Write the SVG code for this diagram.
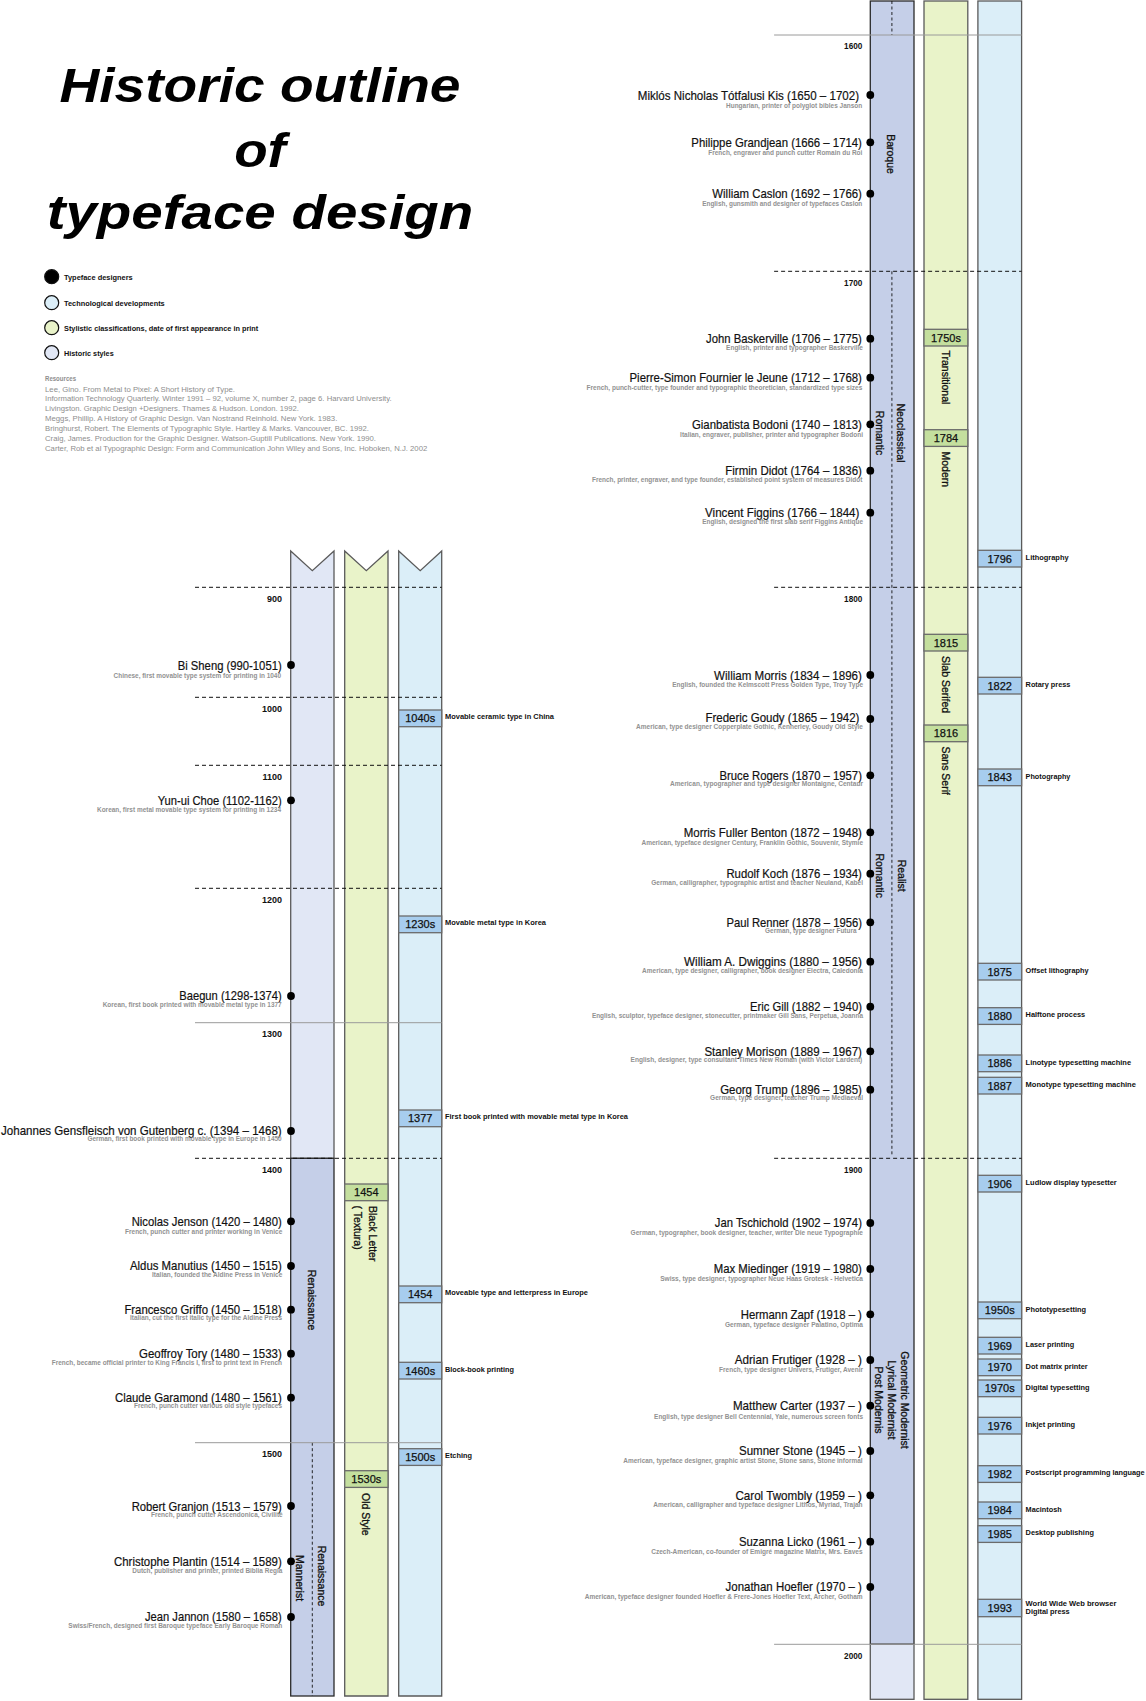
<svg xmlns="http://www.w3.org/2000/svg" width="1146" height="1701" viewBox="0 0 1146 1701">
<style>
text{font-family:"Liberation Sans",Arial,sans-serif;}
.t{font-weight:bold;font-style:italic;font-size:47.5px;text-anchor:middle;fill:#000}
.lg{font-weight:bold;font-size:7.3px;fill:#111}
.rs{font-size:7px;fill:#8e8e8e}
.rh{font-size:7px;font-weight:bold;fill:#8e8e8e}
.nm{font-size:13px;fill:#111;text-anchor:end;stroke:#111;stroke-width:0.2}
.ds{font-size:6.5px;font-weight:bold;fill:#929292;text-anchor:end}
.yl{font-size:9px;font-weight:bold;text-anchor:end;fill:#111}
.yr{font-size:8.2px;font-weight:bold;text-anchor:end;fill:#111}
.dot{fill:#000}
.tb{fill:#a7cdee;stroke:#6b6b6b;stroke-width:1.3}
.sb{fill:#c4df9e;stroke:#6b6b6b;stroke-width:1.3}
.bx{font-size:11px;text-anchor:middle;fill:#111;stroke:#111;stroke-width:0.25}
.tl{font-size:6.8px;font-weight:bold;fill:#111}
.rot{font-size:10.5px;fill:#111;dominant-baseline:central;stroke:#111;stroke-width:0.3}
.dash{stroke:#111;stroke-width:1;stroke-dasharray:4 3;fill:none}
.sol{stroke:#9a9a9a;stroke-width:1;fill:none}
.vd{stroke:#111;stroke-width:0.9;stroke-dasharray:3 2.5;fill:none}
.hs1{fill:#e1e7f5;stroke:#5a5a5a;stroke-width:1.3}
.hs2{fill:#c5cfe8;stroke:#2a2a2a;stroke-width:1.3}
.cg{fill:#e9f3c9;stroke:#5a5a5a;stroke-width:1.3}
.cb{fill:#dbeef8;stroke:#5a5a5a;stroke-width:1.3}
</style>
<rect width="1146" height="1701" fill="#fff"/>

<g id="title">
<text class="t" x="260" y="101.5" textLength="401" lengthAdjust="spacingAndGlyphs">Historic outline</text>
<text class="t" x="260" y="166.5" textLength="51.7" lengthAdjust="spacingAndGlyphs">of</text>
<text class="t" x="260" y="229" textLength="426.7" lengthAdjust="spacingAndGlyphs">typeface design</text>
</g>

<g id="legend">
<circle cx="51.7" cy="276.7" r="7" fill="#000" stroke="#111" stroke-width="1.2"/>
<text class="lg" x="64" y="279.5" textLength="68.7" lengthAdjust="spacingAndGlyphs">Typeface designers</text>
<circle cx="51.7" cy="302.7" r="7" fill="#dbeef8" stroke="#111" stroke-width="1.2"/>
<text class="lg" x="64" y="305.5" textLength="100.7" lengthAdjust="spacingAndGlyphs">Technological developments</text>
<circle cx="51.7" cy="327.7" r="7" fill="#e9f3c9" stroke="#111" stroke-width="1.2"/>
<text class="lg" x="64" y="330.5" textLength="194.3" lengthAdjust="spacingAndGlyphs">Stylistic classifications, date of first appearance in print</text>
<circle cx="51.7" cy="352.7" r="7" fill="#e1e7f5" stroke="#111" stroke-width="1.2"/>
<text class="lg" x="64" y="355.5" textLength="49.7" lengthAdjust="spacingAndGlyphs">Historic styles</text>
</g>

<g id="resources">
<text class="rh" x="45" y="381" textLength="31" lengthAdjust="spacingAndGlyphs">Resources</text>
<text class="rs" x="45" y="391.5" textLength="190" lengthAdjust="spacingAndGlyphs">Lee, Gino. From Metal to Pixel: A Short History of Type.</text>
<text class="rs" x="45" y="401.3" textLength="346.7" lengthAdjust="spacingAndGlyphs">Information Technology Quarterly. Winter 1991 – 92, volume X, number 2, page 6. Harvard University.</text>
<text class="rs" x="45" y="411" textLength="254" lengthAdjust="spacingAndGlyphs">Livingston. Graphic Design +Designers. Thames &amp; Hudson. London. 1992.</text>
<text class="rs" x="45" y="420.7" textLength="292.3" lengthAdjust="spacingAndGlyphs">Meggs, Phillip. A History of Graphic Design. Van Nostrand Reinhold. New York. 1983.</text>
<text class="rs" x="45" y="430.6" textLength="324" lengthAdjust="spacingAndGlyphs">Bringhurst, Robert. The Elements of Typographic Style. Hartley &amp; Marks. Vancouver, BC. 1992.</text>
<text class="rs" x="45" y="440.5" textLength="331" lengthAdjust="spacingAndGlyphs">Craig, James. Production for the Graphic Designer. Watson-Guptill Publications. New York. 1990.</text>
<text class="rs" x="45" y="450.5" textLength="382.3" lengthAdjust="spacingAndGlyphs">Carter, Rob et al Typographic Design: Form and Communication John Wiley and Sons, Inc. Hoboken, N.J. 2002</text>
</g>

<g id="columns-left">
<path class="hs1" d="M290.7,551 L312.3,570.7 L334,551 L334,1158.3 L290.7,1158.3 Z"/>
<rect class="hs2" x="290.7" y="1158.3" width="43.3" height="537.7"/>
<path class="cg" d="M344.7,551 L366.3,570.7 L388,551 L388,1696 L344.7,1696 Z"/>
<path class="cb" d="M398.7,551 L420.2,570.7 L441.7,551 L441.7,1696 L398.7,1696 Z"/>
<line class="vd" x1="312.3" y1="1442.7" x2="312.3" y2="1696"/>
</g>

<g id="columns-right">
<rect class="hs2" x="870.3" y="1" width="43.7" height="1643.3"/>
<rect class="hs1" x="870.3" y="1644.3" width="43.7" height="55"/>
<rect class="cg" x="924" y="1" width="43.8" height="1698.3"/>
<rect class="cb" x="977.9" y="1" width="43.7" height="1698.3"/>
<line class="vd" x1="891.9" y1="1" x2="891.9" y2="35"/>
<line class="vd" x1="891.9" y1="271.3" x2="891.9" y2="1155"/>
</g>

<g id="timeline-lines">
<line class="dash" x1="195" y1="587.3" x2="441.7" y2="587.3"/>
<line class="dash" x1="195" y1="697.3" x2="441.7" y2="697.3"/>
<line class="dash" x1="195" y1="765.3" x2="441.7" y2="765.3"/>
<line class="dash" x1="195" y1="888.3" x2="441.7" y2="888.3"/>
<line class="sol" x1="195" y1="1022.7" x2="441.7" y2="1022.7"/>
<line class="dash" x1="195" y1="1158.3" x2="441.7" y2="1158.3"/>
<line class="sol" x1="195" y1="1442.7" x2="441.7" y2="1442.7"/>
<line class="sol" x1="774.1" y1="35" x2="1021.6" y2="35"/>
<line class="dash" x1="774.1" y1="271.3" x2="1021.6" y2="271.3"/>
<line class="dash" x1="774.1" y1="587.3" x2="1021.6" y2="587.3"/>
<line class="dash" x1="774.1" y1="1158.3" x2="1021.6" y2="1158.3"/>
<line class="sol" x1="774.1" y1="1644.3" x2="1021.6" y2="1644.3"/>
</g>

<g id="year-labels">
<text class="yl" x="282" y="601.8">900</text>
<text class="yl" x="282" y="711.5">1000</text>
<text class="yl" x="282" y="779.5">1100</text>
<text class="yl" x="282" y="902.8">1200</text>
<text class="yl" x="282" y="1036.8">1300</text>
<text class="yl" x="282" y="1173">1400</text>
<text class="yl" x="282" y="1456.5">1500</text>
<text class="yr" x="862.3" y="48.8">1600</text>
<text class="yr" x="862.3" y="285.6">1700</text>
<text class="yr" x="862.3" y="601.6">1800</text>
<text class="yr" x="862.3" y="1173">1900</text>
<text class="yr" x="862.3" y="1658.6">2000</text>
</g>

<g id="historic-styles">
<text class="rot" transform="translate(311.7,1300) rotate(90)" text-anchor="middle">Renaissance</text>
<text class="rot" transform="translate(300,1578) rotate(90)" text-anchor="middle">Mannerist</text>
<text class="rot" transform="translate(321.7,1576) rotate(90)" text-anchor="middle">Renaissance</text>
<text class="rot" transform="translate(891.2,154) rotate(90)" text-anchor="middle">Baroque</text>
<text class="rot" transform="translate(901.1,433) rotate(90)" text-anchor="middle">Neoclassical</text>
<text class="rot" transform="translate(880,433) rotate(90)" text-anchor="middle">Romantic</text>
<text class="rot" transform="translate(901.6,875.7) rotate(90)" text-anchor="middle">Realist</text>
<text class="rot" transform="translate(880,875.7) rotate(90)" text-anchor="middle">Romantic</text>
<text class="rot" transform="translate(904.7,1400) rotate(90)" text-anchor="middle">Geometric Modernist</text>
<text class="rot" transform="translate(891.7,1400) rotate(90)" text-anchor="middle">Lyrical Modernist</text>
<text class="rot" transform="translate(879.3,1400) rotate(90)" text-anchor="middle">Post Modernis</text>
</g>

<g id="style-1454">
<rect class="sb" x="344.7" y="1184" width="43.3" height="16.7"/>
<text class="bx" x="366.3" y="1196.4">1454</text>
<text class="rot" transform="translate(372.7,1206) rotate(90)">Black Letter</text>
<text class="rot" transform="translate(358.3,1205.5) rotate(90)">( Textura)</text>
</g>
<g id="style-1530s">
<rect class="sb" x="344.7" y="1470.7" width="43.3" height="16.7"/>
<text class="bx" x="366.3" y="1483.1">1530s</text>
<text class="rot" transform="translate(366,1493) rotate(90)">Old Style</text>
</g>
<g id="style-1750s">
<rect class="sb" x="924" y="329.3" width="43.8" height="16.7"/>
<text class="bx" x="945.9" y="341.7">1750s</text>
<text class="rot" transform="translate(945.7,350.5) rotate(90)">Transitional</text>
</g>
<g id="style-1784">
<rect class="sb" x="924" y="429.7" width="43.8" height="16.7"/>
<text class="bx" x="945.9" y="442.1">1784</text>
<text class="rot" transform="translate(945.7,451.5) rotate(90)">Modern</text>
</g>
<g id="style-1815">
<rect class="sb" x="924" y="634.3" width="43.8" height="16.7"/>
<text class="bx" x="945.9" y="646.7">1815</text>
<text class="rot" transform="translate(945.7,656) rotate(90)">Slab Serifed</text>
</g>
<g id="style-1816">
<rect class="sb" x="924" y="725" width="43.8" height="16.7"/>
<text class="bx" x="945.9" y="737.4">1816</text>
<text class="rot" transform="translate(945.7,746.5) rotate(90)">Sans Serif</text>
</g>

<g id="tech-1040s"><rect class="tb" x="398.7" y="710" width="43" height="16.7"/><text class="bx" x="420.2" y="722.4">1040s</text><text class="tl" x="445" y="719.2" textLength="109" lengthAdjust="spacingAndGlyphs">Movable ceramic type in China</text></g>
<g id="tech-1230s"><rect class="tb" x="398.7" y="916" width="43" height="16.7"/><text class="bx" x="420.2" y="928.4">1230s</text><text class="tl" x="445" y="925.2" textLength="101" lengthAdjust="spacingAndGlyphs">Movable metal type in Korea</text></g>
<g id="tech-1377"><rect class="tb" x="398.7" y="1110" width="43" height="16.7"/><text class="bx" x="420.2" y="1122.4">1377</text><text class="tl" x="445" y="1119.2" textLength="183" lengthAdjust="spacingAndGlyphs">First book printed with movable metal type in Korea</text></g>
<g id="tech-1454"><rect class="tb" x="398.7" y="1286" width="43" height="16.7"/><text class="bx" x="420.2" y="1298.4">1454</text><text class="tl" x="445" y="1295.2" textLength="143" lengthAdjust="spacingAndGlyphs">Moveable type and letterpress in Europe</text></g>
<g id="tech-1460s"><rect class="tb" x="398.7" y="1362.3" width="43" height="16.7"/><text class="bx" x="420.2" y="1374.7">1460s</text><text class="tl" x="445" y="1371.5" textLength="69" lengthAdjust="spacingAndGlyphs">Block-book printing</text></g>
<g id="tech-1500s"><rect class="tb" x="398.7" y="1448.7" width="43" height="16.7"/><text class="bx" x="420.2" y="1461.1">1500s</text><text class="tl" x="445" y="1457.9" textLength="27" lengthAdjust="spacingAndGlyphs">Etching</text></g>

<g id="tech-1796"><rect class="tb" x="977.9" y="550.3" width="43.7" height="16.7"/><text class="bx" x="999.75" y="562.7">1796</text><text class="tl" x="1025.6" y="559.8" textLength="43" lengthAdjust="spacingAndGlyphs">Lithography</text></g>
<g id="tech-1822"><rect class="tb" x="977.9" y="677.3" width="43.7" height="16.7"/><text class="bx" x="999.75" y="689.7">1822</text><text class="tl" x="1025.6" y="686.8" textLength="44.8" lengthAdjust="spacingAndGlyphs">Rotary press</text></g>
<g id="tech-1843"><rect class="tb" x="977.9" y="769" width="43.7" height="16.7"/><text class="bx" x="999.75" y="781.4">1843</text><text class="tl" x="1025.6" y="778.5" textLength="44.8" lengthAdjust="spacingAndGlyphs">Photography</text></g>
<g id="tech-1875"><rect class="tb" x="977.9" y="963.3" width="43.7" height="16.7"/><text class="bx" x="999.75" y="975.7">1875</text><text class="tl" x="1025.6" y="972.8" textLength="62.9" lengthAdjust="spacingAndGlyphs">Offset lithography</text></g>
<g id="tech-1880"><rect class="tb" x="977.9" y="1007.7" width="43.7" height="16.7"/><text class="bx" x="999.75" y="1020.1">1880</text><text class="tl" x="1025.6" y="1017.2" textLength="59.6" lengthAdjust="spacingAndGlyphs">Halftone process</text></g>
<g id="tech-1886"><rect class="tb" x="977.9" y="1055" width="43.7" height="16.7"/><text class="bx" x="999.75" y="1067.4">1886</text><text class="tl" x="1025.6" y="1064.5" textLength="105.5" lengthAdjust="spacingAndGlyphs">Linotype typesetting machine</text></g>
<g id="tech-1887"><rect class="tb" x="977.9" y="1077.3" width="43.7" height="16.7"/><text class="bx" x="999.75" y="1089.7">1887</text><text class="tl" x="1025.6" y="1086.8" textLength="110.3" lengthAdjust="spacingAndGlyphs">Monotype typesetting machine</text></g>
<g id="tech-1906"><rect class="tb" x="977.9" y="1175.3" width="43.7" height="16.7"/><text class="bx" x="999.75" y="1187.7">1906</text><text class="tl" x="1025.6" y="1184.8" textLength="91.1" lengthAdjust="spacingAndGlyphs">Ludlow display typesetter</text></g>
<g id="tech-1950s"><rect class="tb" x="977.9" y="1302" width="43.7" height="16.7"/><text class="bx" x="999.75" y="1314.4">1950s</text><text class="tl" x="1025.6" y="1311.5" textLength="60.4" lengthAdjust="spacingAndGlyphs">Phototypesetting</text></g>
<g id="tech-1969"><rect class="tb" x="977.9" y="1337.3" width="43.7" height="16.7"/><text class="bx" x="999.75" y="1349.7">1969</text><text class="tl" x="1025.6" y="1346.8" textLength="48.5" lengthAdjust="spacingAndGlyphs">Laser printing</text></g>
<g id="tech-1970"><rect class="tb" x="977.9" y="1359" width="43.7" height="16.7"/><text class="bx" x="999.75" y="1371.4">1970</text><text class="tl" x="1025.6" y="1368.5" textLength="62.1" lengthAdjust="spacingAndGlyphs">Dot matrix printer</text></g>
<g id="tech-1970s"><rect class="tb" x="977.9" y="1380" width="43.7" height="16.7"/><text class="bx" x="999.75" y="1392.4">1970s</text><text class="tl" x="1025.6" y="1389.5" textLength="64" lengthAdjust="spacingAndGlyphs">Digital typesetting</text></g>
<g id="tech-1976"><rect class="tb" x="977.9" y="1417.3" width="43.7" height="16.7"/><text class="bx" x="999.75" y="1429.7">1976</text><text class="tl" x="1025.6" y="1426.8" textLength="49.6" lengthAdjust="spacingAndGlyphs">Inkjet printing</text></g>
<g id="tech-1982"><rect class="tb" x="977.9" y="1465.7" width="43.7" height="16.7"/><text class="bx" x="999.75" y="1478.1">1982</text><text class="tl" x="1025.6" y="1475.2" textLength="119" lengthAdjust="spacingAndGlyphs">Postscript programming language</text></g>
<g id="tech-1984"><rect class="tb" x="977.9" y="1502" width="43.7" height="16.7"/><text class="bx" x="999.75" y="1514.4">1984</text><text class="tl" x="1025.6" y="1511.5" textLength="36.1" lengthAdjust="spacingAndGlyphs">Macintosh</text></g>
<g id="tech-1985"><rect class="tb" x="977.9" y="1525.7" width="43.7" height="16.7"/><text class="bx" x="999.75" y="1538.1">1985</text><text class="tl" x="1025.6" y="1535.2" textLength="68.3" lengthAdjust="spacingAndGlyphs">Desktop publishing</text></g>
<g id="tech-1993"><rect class="tb" x="977.9" y="1599.3" width="43.7" height="17.4"/><text class="bx" x="999.75" y="1612">1993</text><text class="tl" x="1025.6" y="1605.8" textLength="90.8" lengthAdjust="spacingAndGlyphs">World Wide Web browser</text><text class="tl" x="1025.6" y="1614" textLength="44.1" lengthAdjust="spacingAndGlyphs">Digital press</text></g>

<g id="designer-bi-sheng"><circle class="dot" cx="291" cy="665" r="3.9"/><text class="nm" x="281.7" y="669.5" textLength="104" lengthAdjust="spacingAndGlyphs">Bi Sheng (990-1051)</text><text class="ds" x="281" y="678" textLength="167.4" lengthAdjust="spacingAndGlyphs">Chinese, first movable type system for printing in 1040</text></g>
<g id="designer-yun-ui-choe"><circle class="dot" cx="291" cy="800.3" r="3.9"/><text class="nm" x="281.7" y="804.8" textLength="124" lengthAdjust="spacingAndGlyphs">Yun-ui Choe (1102-1162)</text><text class="ds" x="281" y="812" textLength="184" lengthAdjust="spacingAndGlyphs">Korean, first metal movable type system for printing in 1234</text></g>
<g id="designer-baegun"><circle class="dot" cx="291" cy="996" r="3.9"/><text class="nm" x="281.7" y="1000" textLength="102.4" lengthAdjust="spacingAndGlyphs">Baegun (1298-1374)</text><text class="ds" x="281.7" y="1006.8" textLength="179" lengthAdjust="spacingAndGlyphs">Korean, first book printed with movable metal type in 1377</text></g>
<g id="designer-gutenberg"><circle class="dot" cx="291" cy="1131" r="3.9"/><text class="nm" x="281.7" y="1134.8" textLength="280.7" lengthAdjust="spacingAndGlyphs">Johannes Gensfleisch von Gutenberg c. (1394 – 1468)</text><text class="ds" x="281.7" y="1141" textLength="194.3" lengthAdjust="spacingAndGlyphs">German, first book printed with movable type in Europe in 1450</text></g>
<g id="designer-jenson"><circle class="dot" cx="291" cy="1221.3" r="3.9"/><text class="nm" x="281.7" y="1225.8" textLength="150" lengthAdjust="spacingAndGlyphs">Nicolas Jenson (1420 – 1480)</text><text class="ds" x="282.3" y="1233.5" textLength="157.3" lengthAdjust="spacingAndGlyphs">French, punch cutter and printer working in Venice</text></g>
<g id="designer-manutius"><circle class="dot" cx="291" cy="1266" r="3.9"/><text class="nm" x="281.7" y="1270.2" textLength="151.7" lengthAdjust="spacingAndGlyphs">Aldus Manutius (1450 – 1515)</text><text class="ds" x="282.3" y="1276.8" textLength="130.3" lengthAdjust="spacingAndGlyphs">Italian, founded the Aldine Press in Venice</text></g>
<g id="designer-griffo"><circle class="dot" cx="291" cy="1309.7" r="3.9"/><text class="nm" x="281.7" y="1314" textLength="157.3" lengthAdjust="spacingAndGlyphs">Francesco Griffo (1450 – 1518)</text><text class="ds" x="282" y="1320.3" textLength="152" lengthAdjust="spacingAndGlyphs">Italian, cut the first italic type for the Aldine Press</text></g>
<g id="designer-tory"><circle class="dot" cx="291" cy="1353.7" r="3.9"/><text class="nm" x="281.7" y="1358" textLength="142.7" lengthAdjust="spacingAndGlyphs">Geoffroy Tory (1480 – 1533)</text><text class="ds" x="282" y="1365" textLength="230.3" lengthAdjust="spacingAndGlyphs">French, became official printer to King Francis I, first to print text in French</text></g>
<g id="designer-garamond"><circle class="dot" cx="291" cy="1397.7" r="3.9"/><text class="nm" x="281.7" y="1401.8" textLength="166.7" lengthAdjust="spacingAndGlyphs">Claude Garamond (1480 – 1561)</text><text class="ds" x="282" y="1408" textLength="148" lengthAdjust="spacingAndGlyphs">French, punch cutter various old style typefaces</text></g>
<g id="designer-granjon"><circle class="dot" cx="291" cy="1506" r="3.9"/><text class="nm" x="281.7" y="1510.5" textLength="150" lengthAdjust="spacingAndGlyphs">Robert Granjon (1513 – 1579)</text><text class="ds" x="282.7" y="1517.3" textLength="131.7" lengthAdjust="spacingAndGlyphs">French, punch cutter Ascendonica, Civilité</text></g>
<g id="designer-plantin"><circle class="dot" cx="291" cy="1561.3" r="3.9"/><text class="nm" x="281.7" y="1565.8" textLength="167.7" lengthAdjust="spacingAndGlyphs">Christophe Plantin (1514 – 1589)</text><text class="ds" x="282.3" y="1573.3" textLength="150" lengthAdjust="spacingAndGlyphs">Dutch, publisher and printer, printed Biblia Regia</text></g>
<g id="designer-jannon"><circle class="dot" cx="291" cy="1617" r="3.9"/><text class="nm" x="281.7" y="1621.3" textLength="136.7" lengthAdjust="spacingAndGlyphs">Jean Jannon (1580 – 1658)</text><text class="ds" x="282.3" y="1627.8" textLength="214" lengthAdjust="spacingAndGlyphs">Swiss/French, designed first Baroque typeface Early Baroque Roman</text></g>

<g id="designer-kis"><circle class="dot" cx="870.3" cy="95" r="3.9"/><text class="nm" x="859" y="99.5" textLength="221.2" lengthAdjust="spacingAndGlyphs">Miklós Nicholas Tótfalusi Kis (1650 – 1702)</text><text class="ds" x="862.3" y="107.5" textLength="136.3" lengthAdjust="spacingAndGlyphs">Hungarian,  printer of polyglot bibles Janson</text></g>
<g id="designer-grandjean"><circle class="dot" cx="870.3" cy="142.3" r="3.9"/><text class="nm" x="861.9" y="146.8" textLength="170.6" lengthAdjust="spacingAndGlyphs">Philippe Grandjean (1666 – 1714)</text><text class="ds" x="862.3" y="154.7" textLength="154" lengthAdjust="spacingAndGlyphs">French, engraver and punch cutter Romain du Roi</text></g>
<g id="designer-caslon"><circle class="dot" cx="870.3" cy="193.7" r="3.9"/><text class="nm" x="861.9" y="198.2" textLength="149.6" lengthAdjust="spacingAndGlyphs">William Caslon (1692 – 1766)</text><text class="ds" x="862.3" y="206.3" textLength="160.1" lengthAdjust="spacingAndGlyphs">English, gunsmith and designer of typefaces Caslon</text></g>
<g id="designer-baskerville"><circle class="dot" cx="870.3" cy="338.7" r="3.9"/><text class="nm" x="861.9" y="343" textLength="155.8" lengthAdjust="spacingAndGlyphs">John Baskerville (1706 – 1775)</text><text class="ds" x="863" y="349.5" textLength="136.9" lengthAdjust="spacingAndGlyphs">English, printer and typographer Baskerville</text></g>
<g id="designer-fournier"><circle class="dot" cx="870.3" cy="377.7" r="3.9"/><text class="nm" x="861.9" y="382" textLength="232.4" lengthAdjust="spacingAndGlyphs">Pierre-Simon Fournier le Jeune (1712 – 1768)</text><text class="ds" x="862.3" y="389.9" textLength="275.7" lengthAdjust="spacingAndGlyphs">French, punch-cutter, type founder and typographic theoretician, standardized type sizes</text></g>
<g id="designer-bodoni"><circle class="dot" cx="870.3" cy="424.3" r="3.9"/><text class="nm" x="861.9" y="428.7" textLength="169.9" lengthAdjust="spacingAndGlyphs">Gianbatista Bodoni (1740 – 1813)</text><text class="ds" x="863" y="436.5" textLength="182.9" lengthAdjust="spacingAndGlyphs">Italian, engraver, publisher, printer and typographer Bodoni</text></g>
<g id="designer-didot"><circle class="dot" cx="870.3" cy="470.7" r="3.9"/><text class="nm" x="861.9" y="475" textLength="136.6" lengthAdjust="spacingAndGlyphs">Firmin Didot (1764 – 1836)</text><text class="ds" x="862.3" y="482" textLength="270.3" lengthAdjust="spacingAndGlyphs">French, printer, engraver, and type founder, established point system of measures Didot</text></g>
<g id="designer-figgins"><circle class="dot" cx="870.3" cy="512.7" r="3.9"/><text class="nm" x="859.4" y="517" textLength="154.3" lengthAdjust="spacingAndGlyphs">Vincent Figgins (1766 – 1844)</text><text class="ds" x="863" y="524" textLength="160.8" lengthAdjust="spacingAndGlyphs">English, designed the first slab serif Figgins Antique</text></g>
<g id="designer-morris"><circle class="dot" cx="870.3" cy="675" r="3.9"/><text class="nm" x="861.9" y="679.5" textLength="147.8" lengthAdjust="spacingAndGlyphs">William Morris (1834 – 1896)</text><text class="ds" x="863" y="686.8" textLength="190.8" lengthAdjust="spacingAndGlyphs">English, founded the Kelmscott Press Golden Type, Troy Type</text></g>
<g id="designer-goudy"><circle class="dot" cx="870.3" cy="719" r="3.9"/><text class="nm" x="859.4" y="721.8" textLength="154" lengthAdjust="spacingAndGlyphs">Frederic Goudy (1865 – 1942)</text><text class="ds" x="863" y="728.6" textLength="226.9" lengthAdjust="spacingAndGlyphs">American, type designer Copperplate Gothic, Kennerley, Goudy Old Style</text></g>
<g id="designer-rogers"><circle class="dot" cx="870.3" cy="775.3" r="3.9"/><text class="nm" x="861.9" y="779.7" textLength="142.4" lengthAdjust="spacingAndGlyphs">Bruce Rogers (1870 – 1957)</text><text class="ds" x="863" y="786" textLength="193" lengthAdjust="spacingAndGlyphs">American, typographer and type designer Montaigne, Centaur</text></g>
<g id="designer-benton"><circle class="dot" cx="870.3" cy="832.3" r="3.9"/><text class="nm" x="861.9" y="836.7" textLength="178.2" lengthAdjust="spacingAndGlyphs">Morris Fuller Benton (1872 – 1948)</text><text class="ds" x="863" y="845" textLength="221.5" lengthAdjust="spacingAndGlyphs">American, typeface designer Century, Franklin Gothic, Souvenir, Stymie</text></g>
<g id="designer-koch"><circle class="dot" cx="870.3" cy="873.7" r="3.9"/><text class="nm" x="861.9" y="878" textLength="135.5" lengthAdjust="spacingAndGlyphs">Rudolf Koch (1876 – 1934)</text><text class="ds" x="863" y="885" textLength="211.8" lengthAdjust="spacingAndGlyphs">German, calligrapher, typographic artist and teacher Neuland, Kabel</text></g>
<g id="designer-renner"><circle class="dot" cx="870.3" cy="922.3" r="3.9"/><text class="nm" x="861.9" y="926.7" textLength="135.5" lengthAdjust="spacingAndGlyphs">Paul Renner (1878 – 1956)</text><text class="ds" x="856.5" y="933" textLength="91.4" lengthAdjust="spacingAndGlyphs">German, type designer Futura</text></g>
<g id="designer-dwiggins"><circle class="dot" cx="870.3" cy="961.7" r="3.9"/><text class="nm" x="861.9" y="966" textLength="177.8" lengthAdjust="spacingAndGlyphs">William A. Dwiggins (1880 – 1956)</text><text class="ds" x="863" y="973" textLength="220.9" lengthAdjust="spacingAndGlyphs">American, type designer, calligrapher, book designer Electra, Caledonia</text></g>
<g id="designer-gill"><circle class="dot" cx="870.3" cy="1006.7" r="3.9"/><text class="nm" x="861.9" y="1011" textLength="112" lengthAdjust="spacingAndGlyphs">Eric Gill (1882 – 1940)</text><text class="ds" x="863" y="1018" textLength="271.1" lengthAdjust="spacingAndGlyphs">English, sculptor, typeface designer, stonecutter, printmaker Gill Sans, Perpetua, Joanna</text></g>
<g id="designer-morison"><circle class="dot" cx="870.3" cy="1051.3" r="3.9"/><text class="nm" x="861.9" y="1055.7" textLength="157.5" lengthAdjust="spacingAndGlyphs">Stanley Morison (1889 – 1967)</text><text class="ds" x="862.3" y="1062" textLength="231.7" lengthAdjust="spacingAndGlyphs">English, designer, type consultant Times New Roman (with Victor Lardent)</text></g>
<g id="designer-trump"><circle class="dot" cx="870.3" cy="1089.7" r="3.9"/><text class="nm" x="861.9" y="1094" textLength="141.7" lengthAdjust="spacingAndGlyphs">Georg Trump (1896 – 1985)</text><text class="ds" x="863" y="1100" textLength="152.9" lengthAdjust="spacingAndGlyphs">German, type designer, teacher Trump Mediaeval</text></g>
<g id="designer-tschichold"><circle class="dot" cx="870.3" cy="1223" r="3.9"/><text class="nm" x="861.9" y="1227.3" textLength="147.1" lengthAdjust="spacingAndGlyphs">Jan Tschichold (1902 – 1974)</text><text class="ds" x="863" y="1234.5" textLength="232.4" lengthAdjust="spacingAndGlyphs">German, typographer, book designer, teacher, writer Die neue Typographie</text></g>
<g id="designer-miedinger"><circle class="dot" cx="870.3" cy="1269" r="3.9"/><text class="nm" x="861.9" y="1273.3" textLength="148.2" lengthAdjust="spacingAndGlyphs">Max Miedinger (1919 – 1980)</text><text class="ds" x="863" y="1281" textLength="202.8" lengthAdjust="spacingAndGlyphs">Swiss, type designer, typographer Neue Haas Grotesk - Helvetica</text></g>
<g id="designer-zapf"><circle class="dot" cx="870.3" cy="1314.3" r="3.9"/><text class="nm" x="861.9" y="1318.7" textLength="121.1" lengthAdjust="spacingAndGlyphs">Hermann Zapf (1918 – )</text><text class="ds" x="863" y="1327.2" textLength="138" lengthAdjust="spacingAndGlyphs">German, typeface designer Palatino, Optima</text></g>
<g id="designer-frutiger"><circle class="dot" cx="870.3" cy="1360" r="3.9"/><text class="nm" x="861.9" y="1364.3" textLength="127.2" lengthAdjust="spacingAndGlyphs">Adrian Frutiger (1928 – )</text><text class="ds" x="863" y="1372.3" textLength="143.9" lengthAdjust="spacingAndGlyphs">French, type designer Univers, Frutiger, Avenir</text></g>
<g id="designer-carter"><circle class="dot" cx="870.3" cy="1405.7" r="3.9"/><text class="nm" x="861.9" y="1410" textLength="129" lengthAdjust="spacingAndGlyphs">Matthew Carter (1937 – )</text><text class="ds" x="863" y="1418.7" textLength="208.9" lengthAdjust="spacingAndGlyphs">English, type designer Bell Centennial, Yale, numerous screen fonts</text></g>
<g id="designer-stone"><circle class="dot" cx="870.3" cy="1451" r="3.9"/><text class="nm" x="861.9" y="1455.3" textLength="122.9" lengthAdjust="spacingAndGlyphs">Sumner Stone (1945 – )</text><text class="ds" x="862.6" y="1463" textLength="239.3" lengthAdjust="spacingAndGlyphs">American, typeface designer, graphic artist Stone, Stone sans, Stone informal</text></g>
<g id="designer-twombly"><circle class="dot" cx="870.3" cy="1495.3" r="3.9"/><text class="nm" x="861.9" y="1499.7" textLength="126.5" lengthAdjust="spacingAndGlyphs">Carol Twombly (1959 – )</text><text class="ds" x="862.6" y="1507" textLength="209.3" lengthAdjust="spacingAndGlyphs">American, calligrapher and typeface designer Lithos, Myriad, Trajan</text></g>
<g id="designer-licko"><circle class="dot" cx="870.3" cy="1541.7" r="3.9"/><text class="nm" x="861.9" y="1546" textLength="122.9" lengthAdjust="spacingAndGlyphs">Suzanna Licko (1961 – )</text><text class="ds" x="862.6" y="1553.5" textLength="211.4" lengthAdjust="spacingAndGlyphs">Czech-American, co-founder of Emigré magazine Matrix, Mrs. Eaves</text></g>
<g id="designer-hoefler"><circle class="dot" cx="870.3" cy="1587" r="3.9"/><text class="nm" x="861.9" y="1591.3" textLength="136.3" lengthAdjust="spacingAndGlyphs">Jonathan Hoefler (1970 – )</text><text class="ds" x="862.6" y="1598.5" textLength="277.9" lengthAdjust="spacingAndGlyphs">American, typeface designer founded Hoefler &amp; Frere-Jones Hoefler Text, Archer, Gotham</text></g>
</svg>
